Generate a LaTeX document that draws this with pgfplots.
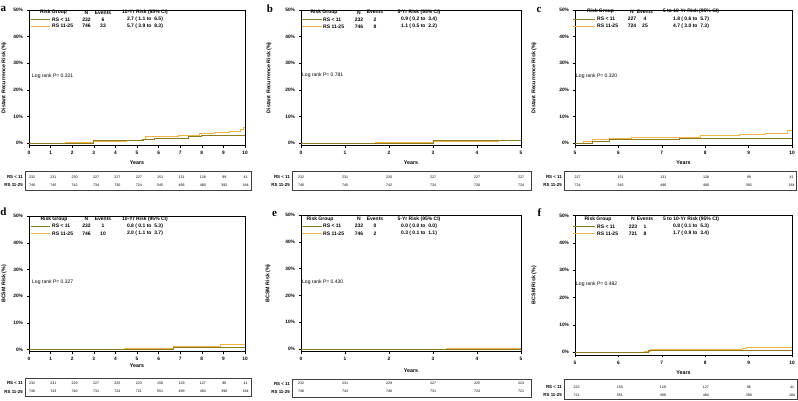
\documentclass[border=0pt]{standalone}
\usepackage{fontspec}
\setmainfont{Liberation Sans}
\newfontfamily\serif{Liberation Serif}
\usepackage{pgfplots}
\pgfplotsset{compat=1.18}
\definecolor{rsLow}{HTML}{8C7A1E}
\definecolor{rsHigh}{HTML}{EDB448}
\newcommand\fL{\fontsize{5}{6}\selectfont}
\newcommand\fT{\fontsize{3.6}{4}\selectfont}
\newcommand\fR{\fontsize{4.4}{5}\selectfont\bfseries}
\newcommand\fK{\fontsize{4.8}{5}\selectfont\bfseries}
\newcommand\fY{\fontsize{5.3}{6}\selectfont\bfseries}
\newcommand\fP{\serif\bfseries\fontsize{11}{12}\selectfont}
\newcommand{\tx}[4][center]{\node[anchor=#1,inner sep=0pt,font=\fL] at (#2pt,-#3pt) {#4};}
\newcommand\setcols[7]{\def\cLa{#1}\def\cLb{#2}\def\cNm{#3}\def\cN{#4}\def\cE{#5}\def\cR{#6}\def\cRG{#7}}
\newcommand\leghead[2]{\tx{\cRG}{#1}{\bfseries Risk Group}\tx{\cN}{#1}{\bfseries N}\tx{\cE}{#1}{\bfseries Events}\tx{\cR}{#1}{\bfseries #2}}
\newcommand\legrow[6]{\draw[#1, line width=0.9pt] (\cLa pt,-#2pt) -- (\cLb pt,-#2pt);
 \tx[west]{\cNm}{#2}{\bfseries #3}\tx{\cN}{#2}{\bfseries #4}\tx{\cE}{#2}{\bfseries #5}\tx{\cR}{#2}{\bfseries #6}}
\pgfplotsset{
  km/.style={scale only axis, anchor=south west, axis line style={black,line width=0.4pt},
    tick style={black,line width=0.4pt}, tick align=outside, major tick length=2.5pt,
    xtick pos=bottom, ytick pos=left, ymax=50, ytick={0,10,20,30,40,50},
    /pgf/number format/assume math mode=true,
    yticklabel={\pgfmathprintnumber{\tick}\%}, xticklabel={\pgfmathprintnumber{\tick}},
    yticklabel style={font=\fK}, xticklabel style={font=\fK},
    xlabel={Years}, xlabel style={font=\fY, anchor=center}, ylabel style={font=\fY, anchor=center}},
  rt/.style={scale only axis, anchor=south west, axis line style={black!75,line width=0.4pt},
    xtick=\empty, ytick=\empty, clip=false},
  tbl/.style={only marks, mark size=0pt, mark options={draw=none,fill=none}, nodes near coords,
    point meta=explicit symbolic,
    every node near coord/.append style={anchor=center, font=\fT, inner sep=0pt}},
  lo/.style={const plot, rsLow, line width=1pt},
  hi/.style={const plot, rsHigh, line width=1pt},
}
\begin{document}
\begin{tikzpicture}
\path[use as bounding box] (0pt,0pt) rectangle (798pt,-400pt);

% ===== Panel a =====
\begin{axis}[km, at={(29pt,-145.5pt)}, width=216pt, height=135.5pt, xmin=0, xmax=10, ymin=-0.94,
  xtick={0,1,...,10}, ylabel={Distant Recurrence Risk (\%)},
  ylabel style={at={([xshift=-25pt]axis description cs:0,0.5)}},
  xlabel style={at={([yshift=-17.5pt]axis description cs:0.5,0)}}]
\addplot[hi] coordinates {(0,0) (1.7,0.15) (2.4,0.3) (3.0,0.45) (4.5,0.85) (5.2,1.3) (5.4,2.3) (6.0,2.6) (6.9,2.9) (7.9,3.5) (8.6,3.9) (9.3,4.4) (9.8,5.0) (9.95,5.7) (10,5.7)};
\addplot[lo] coordinates {(0,0) (3.0,0.85) (5.3,1.3) (5.8,1.8) (7.4,2.3) (8.0,2.7) (10,2.7)};
\end{axis}
\begin{axis}[rt, at={(25pt,-190pt)}, width=226pt, height=19pt, xmin=-0.328, xmax=10.248, ymin=-190, ymax=-171]
\addplot[tbl] coordinates {(0,-177)[232] (1,-177)[231] (2,-177)[230] (3,-177)[227] (4,-177)[227] (5,-177)[227] (6,-177)[151] (7,-177)[131] (8,-177)[128] (9,-177)[99] (10,-177)[41]};
\addplot[tbl] coordinates {(0,-185)[746] (1,-185)[745] (2,-185)[742] (3,-185)[734] (4,-185)[730] (5,-185)[724] (6,-185)[545] (7,-185)[496] (8,-185)[480] (9,-185)[392] (10,-185)[184]};
\end{axis}
\tx[east]{23}{177}{\fR RS < 11}
\tx[east]{23}{185}{\fR RS 11-25}
\setcols{31}{50}{52}{86.5}{103}{145}{53.5}
\leghead{12.7}{10-Yr Risk (95\% CI)}
\legrow{rsLow}{19.3}{RS < 11}{232}{6}{2.7 ( 1.1 to \ 6.5)}
\legrow{rsHigh}{26}{RS 11-25}{746}{33}{5.7 ( 3.9 to \ 8.3)}
\tx[west]{32}{76}{Log rank P= 0.321}
\node[anchor=center,inner sep=0pt,font=\fP] at (3.5pt,-9pt) {a};

% ===== Panel b =====
\begin{axis}[km, at={(301pt,-145.5pt)}, width=220pt, height=135.5pt, xmin=0, xmax=5, ymin=-0.94,
  xtick={0,1,...,5}, ylabel={Distant Recurrence Risk (\%)},
  ylabel style={at={([xshift=-32pt]axis description cs:0,0.5)}},
  xlabel style={at={([yshift=-17.5pt]axis description cs:0.5,0)}}]
\addplot[hi] coordinates {(0,0) (1.7,0.15) (2.4,0.3) (3.0,0.45) (4.5,0.85) (4.9,1.1) (5,1.1)};
\addplot[lo] coordinates {(0,0) (3.0,0.9) (5,0.9)};
\end{axis}
\begin{axis}[rt, at={(292pt,-190pt)}, width=239pt, height=19pt, xmin=-0.205, xmax=5.227, ymin=-190, ymax=-171]
\addplot[tbl] coordinates {(0,-177)[232] (1,-177)[231] (2,-177)[230] (3,-177)[227] (4,-177)[227] (5,-177)[227]};
\addplot[tbl] coordinates {(0,-185)[746] (1,-185)[745] (2,-185)[742] (3,-185)[734] (4,-185)[730] (5,-185)[724]};
\end{axis}
\tx[east]{290}{177}{\fR RS < 11}
\tx[east]{290}{185}{\fR RS 11-25}
\setcols{302}{322}{323}{359}{375}{419}{324}
\leghead{12.3}{5-Yr Risk (95\% CI)}
\legrow{rsLow}{19.3}{RS < 11}{232}{2}{0.9 ( 0.2 to \ 3.4)}
\legrow{rsHigh}{26.5}{RS 11-25}{746}{8}{1.1 ( 0.5 to \ 2.2)}
\tx[west]{302}{75}{Log rank P= 0.781}
\node[anchor=center,inner sep=0pt,font=\fP] at (270pt,-9pt) {b};

% ===== Panel c =====
\begin{axis}[km, at={(575pt,-145.5pt)}, width=217pt, height=135.5pt, xmin=5, xmax=10, ymin=-0.94,
  xtick={5,6,...,10}, ylabel={Distant Recurrence Risk (\%)},
  ylabel style={at={([xshift=-41pt]axis description cs:0,0.5)}},
  xlabel style={at={([yshift=-17.5pt]axis description cs:0.5,0)}}]
\addplot[hi] coordinates {(5,0) (5.2,0.7) (5.4,1.3) (5.8,1.6) (6.3,2.0) (7.9,2.8) (8.8,3.3) (9.4,3.6) (9.9,4.7) (10,4.7)};
\addplot[lo] coordinates {(5,0) (5.4,0.4) (5.8,1.2) (7.4,1.8) (10,1.8)};
\end{axis}
\begin{axis}[rt, at={(564pt,-190pt)}, width=232pt, height=19pt, xmin=4.68, xmax=10.1, ymin=-190, ymax=-171]
\addplot[tbl] coordinates {(5,-177)[227] (6,-177)[151] (7,-177)[131] (8,-177)[128] (9,-177)[99] (10,-177)[41]};
\addplot[tbl] coordinates {(5,-185)[724] (6,-185)[545] (7,-185)[496] (8,-185)[480] (9,-185)[392] (10,-185)[184]};
\end{axis}
\tx[east]{562}{177}{\fR RS < 11}
\tx[east]{562}{185}{\fR RS 11-25}
\setcols{573}{595}{597}{632}{645}{691}{600.5}
\leghead{11.7}{5 to 10-Yr Risk (95\% CI)}
\legrow{rsLow}{19}{RS < 11}{227}{4}{1.8 ( 0.6 to \ 5.7)}
\legrow{rsHigh}{26}{RS 11-25}{724}{25}{4.7 ( 3.0 to \ 7.3)}
\tx[west]{576}{76}{Log rank P= 0.320}
\node[anchor=center,inner sep=0pt,font=\fP] at (539pt,-10pt) {c};

% ===== Panel d =====
\begin{axis}[km, at={(29pt,-351.5pt)}, width=216pt, height=135.5pt, xmin=0, xmax=10, ymin=-0.75,
  xtick={0,1,...,10}, ylabel={BCSM Risk (\%)},
  ylabel style={at={([xshift=-25pt]axis description cs:0,0.5)}},
  xlabel style={at={([yshift=-14.5pt]axis description cs:0.5,0)}}]
\addplot[hi] coordinates {(0,0) (3.6,0.15) (4.4,0.3) (6.7,1.0) (8.2,1.2) (8.85,1.7) (8.95,2.0) (10,2.0)};
\addplot[lo] coordinates {(0,0) (6.7,0.8) (10,0.8)};
\end{axis}
\begin{axis}[rt, at={(25pt,-396.5pt)}, width=226pt, height=18.5pt, xmin=-0.328, xmax=10.248, ymin=-396.5, ymax=-378]
\addplot[tbl] coordinates {(0,-383.3)[232] (1,-383.3)[231] (2,-383.3)[229] (3,-383.3)[227] (4,-383.3)[225] (5,-383.3)[223] (6,-383.3)[150] (7,-383.3)[129] (8,-383.3)[127] (9,-383.3)[96] (10,-383.3)[41]};
\addplot[tbl] coordinates {(0,-391.7)[746] (1,-391.7)[743] (2,-391.7)[740] (3,-391.7)[731] (4,-391.7)[724] (5,-391.7)[721] (6,-391.7)[551] (7,-391.7)[499] (8,-391.7)[484] (9,-391.7)[390] (10,-391.7)[184]};
\end{axis}
\tx[east]{23}{383.3}{\fR RS < 11}
\tx[east]{23}{391.7}{\fR RS 11-25}
\setcols{31}{50}{52}{86.5}{103}{145}{54}
\leghead{219}{10-Yr Risk (95\% CI)}
\legrow{rsLow}{226}{RS < 11}{232}{1}{0.8 ( 0.1 to \ 5.3)}
\legrow{rsHigh}{233.3}{RS 11-25}{746}{10}{2.0 ( 1.1 to \ 3.7)}
\tx[west]{32}{282}{Log rank P= 0.327}
\node[anchor=center,inner sep=0pt,font=\fP] at (3.5pt,-212pt) {d};

% ===== Panel e =====
\begin{axis}[km, at={(301pt,-351.5pt)}, width=220pt, height=136.5pt, xmin=0, xmax=5, ymin=-0.93,
  xtick={0,1,...,5}, ylabel={BCSM Risk (\%)},
  ylabel style={at={([xshift=-33pt]axis description cs:0,0.5)}},
  xlabel style={at={([yshift=-19pt]axis description cs:0.5,0)}}]
\addplot[hi] coordinates {(0,0) (3.3,0.15) (3.7,0.3) (5,0.3)};
\addplot[lo] coordinates {(0,0) (5,0)};
\end{axis}
\begin{axis}[rt, at={(292pt,-397pt)}, width=239pt, height=18pt, xmin=-0.205, xmax=5.227, ymin=-397, ymax=-379]
\addplot[tbl] coordinates {(0,-383.5)[232] (1,-383.5)[231] (2,-383.5)[229] (3,-383.5)[227] (4,-383.5)[225] (5,-383.5)[223]};
\addplot[tbl] coordinates {(0,-391.7)[746] (1,-391.7)[743] (2,-391.7)[740] (3,-391.7)[731] (4,-391.7)[724] (5,-391.7)[721]};
\end{axis}
\tx[east]{290}{383.5}{\fR RS < 11}
\tx[east]{290}{391.7}{\fR RS 11-25}
\setcols{302}{322}{323}{359}{375}{419}{320}
\leghead{219}{5-Yr Risk (95\% CI)}
\legrow{rsLow}{226}{RS < 11}{232}{0}{0.0 ( 0.0 to \ 0.0)}
\legrow{rsHigh}{233.7}{RS 11-25}{746}{2}{0.3 ( 0.1 to \ 1.1)}
\tx[west]{302}{282.3}{Log rank P= 0.430}
\node[anchor=center,inner sep=0pt,font=\fP] at (274.5pt,-214pt) {e};

% ===== Panel f =====
\begin{axis}[km, at={(575pt,-354.8pt)}, width=217pt, height=139.3pt, xmin=5, xmax=10, ymin=-0.91,
  xtick={5,6,...,10}, ylabel={BCSM Risk (\%)},
  ylabel style={at={([xshift=-41pt]axis description cs:0,0.5)}},
  xlabel style={at={([yshift=-18pt]axis description cs:0.5,0)}}]
\addplot[hi] coordinates {(5,0) (6.6,0.3) (6.75,1.0) (8.85,1.3) (8.95,1.7) (10,1.7)};
\addplot[lo] coordinates {(5,0) (6.7,0.8) (10,0.8)};
\end{axis}
\begin{axis}[rt, at={(564pt,-399pt)}, width=233pt, height=20pt, xmin=4.705, xmax=10.116, ymin=-399, ymax=-379]
\addplot[tbl] coordinates {(5,-386.8)[223] (6,-386.8)[150] (7,-386.8)[129] (8,-386.8)[127] (9,-386.8)[96] (10,-386.8)[41]};
\addplot[tbl] coordinates {(5,-395.3)[721] (6,-395.3)[551] (7,-395.3)[499] (8,-395.3)[484] (9,-395.3)[390] (10,-395.3)[184]};
\end{axis}
\tx[east]{562}{386.8}{\fR RS < 11}
\tx[east]{562}{395.3}{\fR RS 11-25}
\setcols{573}{595}{597}{633}{645}{691}{598}
\leghead{219}{5 to 10-Yr Risk (95\% CI)}
\legrow{rsLow}{226.7}{RS < 11}{223}{1}{0.8 ( 0.1 to \ 5.3)}
\legrow{rsHigh}{233.3}{RS 11-25}{721}{8}{1.7 ( 0.9 to \ 3.4)}
\tx[west]{576}{284.3}{Log rank P= 0.482}
\node[anchor=center,inner sep=0pt,font=\fP] at (539.5pt,-213pt) {f};
\end{tikzpicture}
\end{document}
